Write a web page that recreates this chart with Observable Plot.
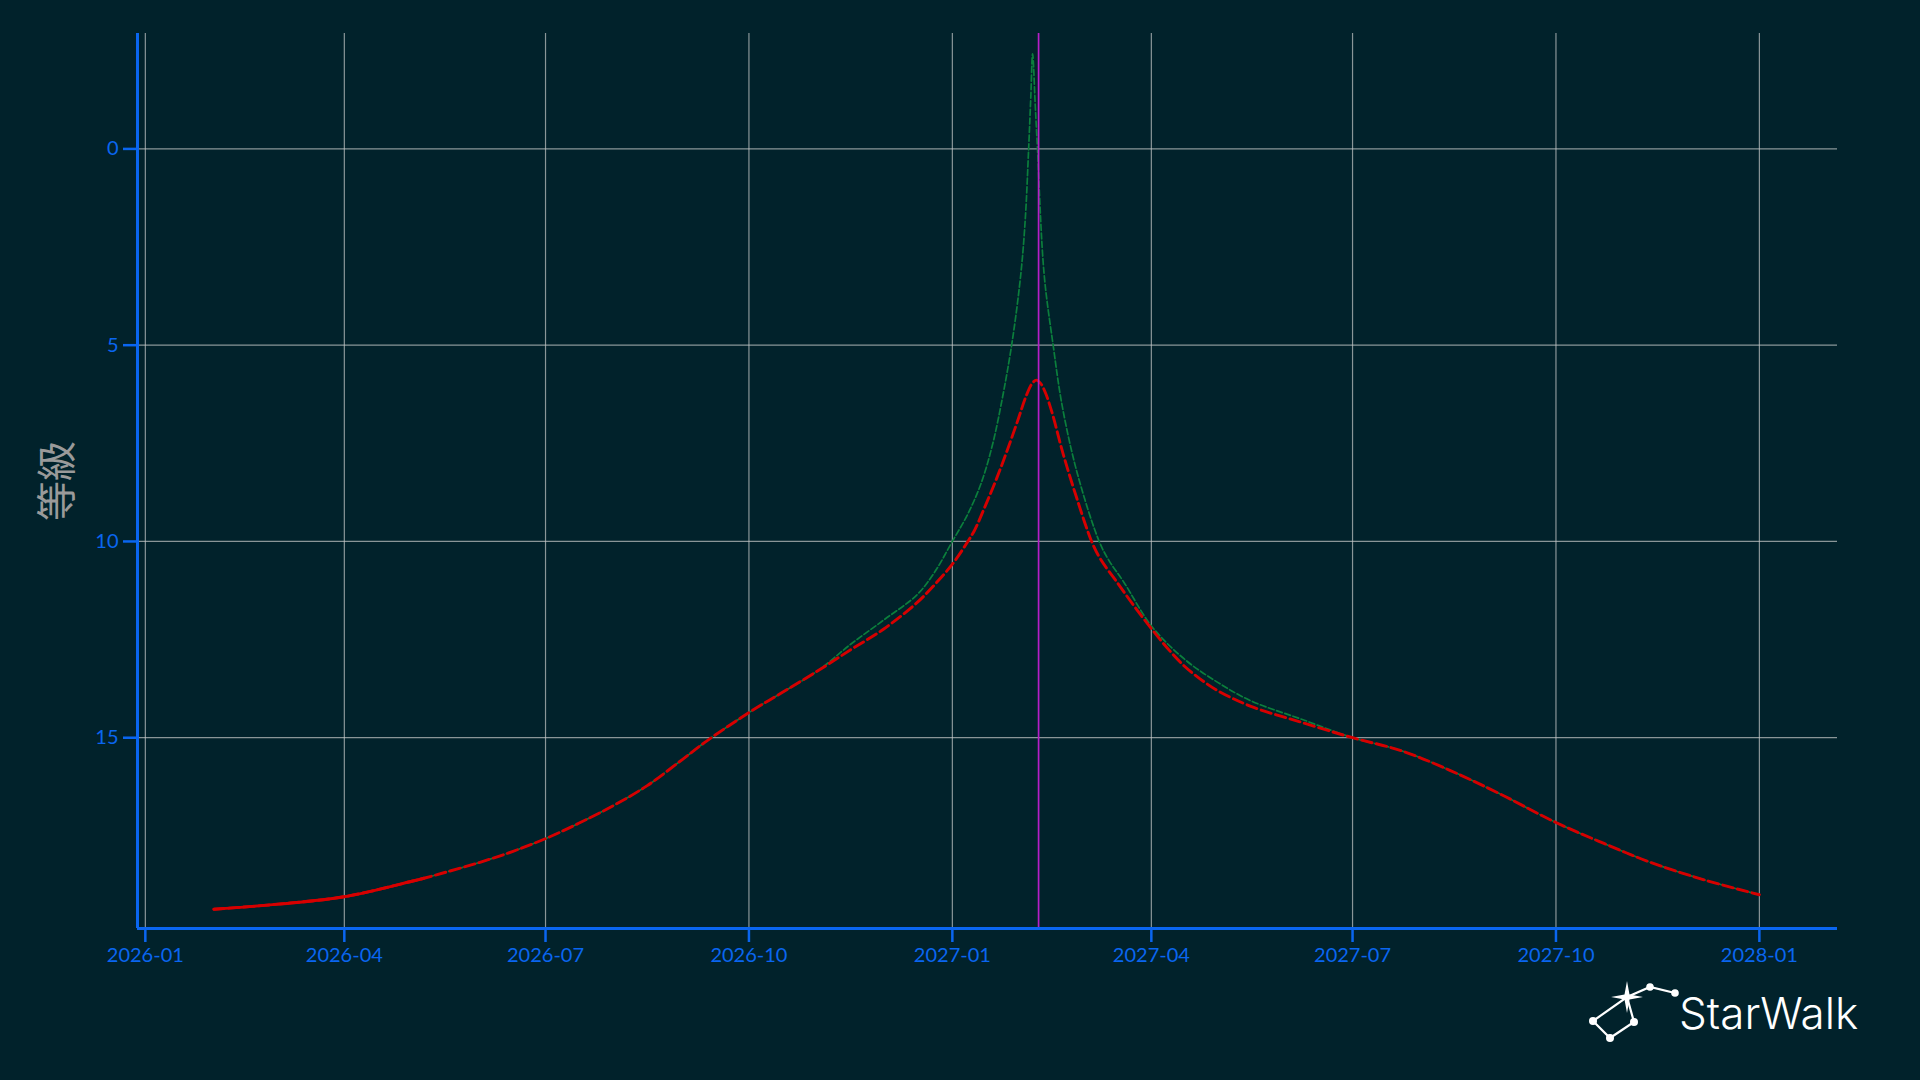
<!DOCTYPE html>
<html>
<head>
<meta charset="utf-8">
<script src="https://cdn.jsdelivr.net/npm/d3@7"></script>
<script src="https://cdn.jsdelivr.net/npm/@observablehq/plot@0.6"></script>
<style>
  html, body { margin: 0; padding: 0; background: #01222b; }
  #wrap { position: relative; width: 1920px; height: 1080px; overflow: hidden; background: #01222b; }
  #logo { position: absolute; left: 1580px; top: 970px; }
</style>
</head>
<body>
<div id="wrap"><div id="chart"></div>
<svg id="logo" width="320" height="90" viewBox="1580 970 320 90">
  <g stroke="#ffffff" stroke-width="2.2" fill="none">
    <polyline points="1593,1021 1610,1038 1634,1022 1627,997 1593,1021"/>
    <polyline points="1627,997 1650,987 1675,993"/>
  </g>
  <g fill="#ffffff">
    <circle cx="1593" cy="1021" r="4"/>
    <circle cx="1610" cy="1038" r="4"/>
    <circle cx="1634" cy="1022" r="4"/>
    <circle cx="1650" cy="987" r="3.8"/>
    <circle cx="1675" cy="993" r="3.8"/>
    <path d="M1627,981 L1629.5,994.5 L1643,997 L1629.5,999.5 L1627,1013 L1624.5,999.5 L1611,997 L1624.5,994.5 Z"/>
  </g>
  <text x="1679" y="1029" fill="#ffffff" font-family="Inter, 'Open Sans', sans-serif" font-weight="300" font-size="44">StarWalk</text>
</svg>
</div>
<script>
// ---- data ----
const redDates = ["2026-02-01","2026-03-02","2026-04-01","2026-05-02","2026-05-07","2026-05-16","2026-06-01","2026-06-16","2026-07-01","2026-07-16","2026-08-01","2026-08-16","2026-09-01","2026-09-12","2026-10-01","2026-10-16","2026-11-01","2026-11-16","2026-12-01","2026-12-16","2026-12-24","2027-01-01","2027-01-08","2027-01-11","2027-01-16","2027-01-21","2027-01-26","2027-01-31","2027-02-03","2027-02-06","2027-02-08","2027-02-10","2027-02-12","2027-02-15","2027-02-20","2027-02-26","2027-03-05","2027-03-09","2027-03-17","2027-03-24","2027-04-01","2027-04-08","2027-04-16","2027-04-23","2027-05-01","2027-05-16","2027-06-08","2027-07-01","2027-07-23","2027-08-14","2027-09-06","2027-10-01","2027-10-23","2027-11-13","2027-12-07","2028-01-01"];
const redMag = [19.37,19.24,19.05,18.65,18.58,18.44,18.18,17.9,17.57,17.18,16.72,16.22,15.55,15.08,14.36,13.85,13.3,12.76,12.23,11.56,11.1,10.58,10.0,9.72,9.08,8.4,7.65,6.85,6.35,5.98,5.89,5.98,6.2,6.7,7.75,8.85,10.0,10.45,11.08,11.63,12.22,12.7,13.18,13.5,13.8,14.2,14.61,15.0,15.33,15.83,16.44,17.16,17.7,18.18,18.62,19.0];

const greenDates = ["2026-05-07","2026-05-16","2026-06-01","2026-06-16","2026-07-01","2026-07-16","2026-08-01","2026-08-16","2026-09-01","2026-09-12","2026-10-01","2026-10-16","2026-11-01","2026-11-16","2026-12-01","2026-12-16","2026-12-24","2027-01-01","2027-01-08","2027-01-14","2027-01-19","2027-01-23","2027-01-28","2027-02-01","2027-02-03","2027-02-04T12:00","2027-02-05T12:00","2027-02-06T07:00","2027-02-07T12:00","2027-02-08T12:00","2027-02-11T12:00","2027-02-15T14:00","2027-02-19T19:00","2027-02-26T14:00","2027-03-08T10:00","2027-03-13","2027-03-19T17:00","2027-04-01","2027-04-16","2027-05-01","2027-05-16","2027-06-08","2027-07-01","2027-07-23","2027-08-14","2027-09-06","2027-10-01","2027-10-23","2027-11-13","2027-12-07","2028-01-01"];
const greenMag = [18.58,18.44,18.18,17.9,17.57,17.18,16.72,16.22,15.55,15.08,14.36,13.85,13.3,12.62,12.0,11.36,10.78,10.0,9.3,8.52,7.57,6.53,4.93,3.17,1.77,0,-1.35,-2.42,-1.1,0,3.19,5.0,6.58,8.28,10.0,10.5,11.05,12.15,13.0,13.59,14.06,14.53,15.0,15.33,15.83,16.44,17.16,17.7,18.18,18.62,19.0];

const solidUntil = "2026-05-07";
const perihelion = "2027-02-09";
const yTicks = [0, 5, 10, 15];
const yLabel = "等級";
const xDomainDates = ["2025-12-28T11:00", "2028-02-05T08:00"];
const yDomainValues = [-2.94, 19.86];

// ---- build ----
const parse = s => new Date(s.length === 10 ? s + "T00:00:00Z" : s + ":00Z");
const red = redDates.map((d, i) => ({date: parse(d), mag: redMag[i]}));
const green = greenDates.map((d, i) => ({date: parse(d), mag: greenMag[i]}));
const redSolid = red.filter(d => d.date <= parse(solidUntil));
const xDomain = xDomainDates.map(parse);

const BLUE = "#0a66f0", RED = "#d60000", GREEN = "#0b7f3c", MAGENTA = "#b61fc8", GRID = "#c4c8c8";
const quarter = d3.utcMonth.every(3);

const chart = Plot.plot({
  width: 1920,
  height: 1080,
  marginLeft: 137,
  marginRight: 83,
  marginTop: 33,
  marginBottom: 152,
  style: {background: "transparent", fontFamily: "Lato, sans-serif", color: BLUE},
  x: {type: "utc", domain: xDomain},
  y: {domain: yDomainValues, reverse: true},
  marks: [
    Plot.gridX({ticks: quarter, stroke: GRID, strokeOpacity: 0.7, strokeWidth: 1.2}),
    Plot.gridY({ticks: yTicks, stroke: GRID, strokeOpacity: 0.7, strokeWidth: 1.2}),
    Plot.line(green, {x: "date", y: "mag", stroke: GREEN, strokeWidth: 1.7, strokeDasharray: "6,2.6", curve: "catmull-rom"}),
    Plot.line(red, {x: "date", y: "mag", stroke: RED, strokeWidth: 2.9, strokeDasharray: "10.5,4.5", curve: "catmull-rom"}),
    Plot.line(redSolid, {x: "date", y: "mag", stroke: RED, strokeWidth: 2.9, curve: "catmull-rom"}),
    Plot.ruleX([parse(perihelion)], {stroke: MAGENTA, strokeWidth: 1.7}),
    Plot.ruleX([xDomain[0]], {stroke: BLUE, strokeWidth: 3}),
    Plot.ruleY([yDomainValues[1]], {stroke: BLUE, strokeWidth: 3}),
    Plot.axisX({ticks: quarter, tickFormat: d3.utcFormat("%Y-%m"), tickSize: 14, tickPadding: 5, stroke: BLUE, strokeWidth: 2.5, fill: BLUE, fontSize: 20, label: null}),
    Plot.axisY({ticks: yTicks, tickSize: 14, tickPadding: 5, stroke: BLUE, strokeWidth: 2.5, fill: BLUE, fontSize: 20, label: null}),
    Plot.text([yLabel], {frameAnchor: "left", dx: -79, rotate: -90, fill: "#9a9a9a", fontSize: 40, fontFamily: "'Noto Sans CJK JP', sans-serif", textAnchor: "middle", lineAnchor: "middle"})
  ]
});
document.getElementById("chart").appendChild(chart);
</script>
</body>
</html>
